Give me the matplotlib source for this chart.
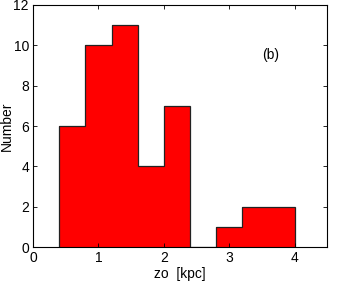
import matplotlib
matplotlib.use('Agg')
import matplotlib.pyplot as plt

plt.rcParams['font.family'] = ['Liberation Sans', 'DejaVu Sans']
plt.rcParams['font.size'] = 10

# histogram of zo
bin_edges = [0.4, 0.8, 1.2, 1.6, 2.0, 2.4, 2.8, 3.2, 3.6, 4.0]
counts = [6, 10, 11, 4, 7, 0, 1, 2, 2]
xticks = [0, 1, 2, 3, 4]
yticks = [0, 2, 4, 6, 8, 10, 12]

fig = plt.figure(figsize=(3.38, 2.91), dpi=100)
ax = fig.add_axes([0.098, 0.151, 0.870, 0.832])

# filled area plus step outline (no inner dividers, like the reference)
ax.stairs(counts, bin_edges, baseline=0, fill=True, facecolor='#ff0000',
          edgecolor='none')
ax.stairs(counts, bin_edges, baseline=0, fill=False, edgecolor='#222222',
          linewidth=0.9)

ax.set_xlim(0, 4.5)
ax.set_ylim(0, 12)
ax.set_xticks(xticks)
ax.set_yticks(yticks)
ax.tick_params(direction='in', top=True, right=True, length=3, width=0.6, pad=3)
for s in ax.spines.values():
    s.set_linewidth(0.8)
ax.set_xlabel('zo  [kpc]', labelpad=1)
ax.set_ylabel('Number')
ax.yaxis.set_label_coords(-0.064, 0.5)
ax.text(3.63, 9.52, '(b)', ha='center', va='center')

fig.savefig('out.png', dpi=100)
